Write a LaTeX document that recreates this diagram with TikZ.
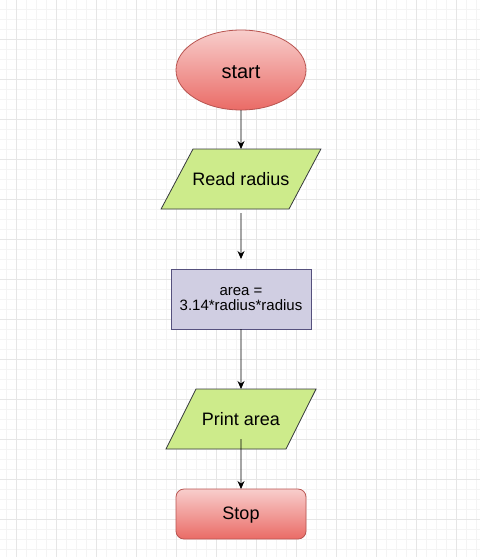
\documentclass[tikz,border=0pt]{standalone}
\usepackage{fontspec}
\setmainfont{Liberation Sans}
\usetikzlibrary{positioning, arrows.meta, shapes.geometric}
\definecolor{termtop}{HTML}{F8CECC}
\definecolor{termbot}{HTML}{EA6B66}
\definecolor{termline}{HTML}{B85450}
\definecolor{iofill}{HTML}{CDEB8B}
\definecolor{ioline}{HTML}{36393D}
\definecolor{procfill}{HTML}{D0CEE2}
\definecolor{procline}{HTML}{56517E}
\definecolor{gridminor}{HTML}{F4F4F4}
\definecolor{gridmajor}{HTML}{E6E6E6}
\newcommand{\fs}[1]{\fontsize{#1}{#1}\selectfont}

\begin{document}
\begin{tikzpicture}[x=1pt, y=-1pt,
    terminal/.style={draw=termline, top color=termtop, bottom color=termbot, line width=0.8pt,
        text height=14pt, text depth=3pt, inner sep=0pt, outer sep=0pt},
    inout/.style={trapezium, trapezium left angle=62, trapezium right angle=118,
        draw=ioline, fill=iofill, line width=0.8pt, text height=15pt, text depth=3pt,
        inner xsep=0pt, inner ysep=21pt, outer sep=0pt, font=\fs{18}},
    process/.style={rectangle, draw=procline, fill=procfill, line width=0.8pt, minimum width=140pt, minimum height=60pt,
        inner sep=0pt, outer sep=0pt, align=center, font=\fs{15}},
    flow/.style={-{Stealth[length=8pt, width=7pt]}, line width=0.8pt}]
    \useasboundingbox (0,0) rectangle (480,557);
    \fill[white] (0,0) rectangle (480,557);
    % grid
    \foreach \x in {6,16,...,476} \draw[gridminor, line width=0.6pt] (\x,0) -- (\x,557);
    \foreach \y in {9,19,...,549} \draw[gridminor, line width=0.6pt] (0,\y) -- (480,\y);
    \foreach \x in {16,56,...,456} \draw[gridmajor, line width=0.8pt] (\x,0) -- (\x,557);
    \foreach \y in {-1,39,...,519} \draw[gridmajor, line width=0.8pt] (0,\y) -- (480,\y);

    \node [terminal, ellipse, minimum width=130pt, minimum height=80pt, text height=19pt, text depth=2pt, font=\fs{20}] (start) at (241,70) {start};
    \node [inout, below=39pt of start] (read) {\makebox[96pt]{Read radius}};
    \node [process, below=60pt of read] (calc) {area =\\3.14*radius*radius};
    \node [inout, trapezium left angle=63.4, trapezium right angle=116.6, below=60pt of calc] (print) {\makebox[90pt]{Print area}};
    \node [terminal, rounded corners=8pt, minimum width=130pt, minimum height=50pt, font=\fs{18}, below=40pt of print] (stop) {Stop};

    \draw[flow] (start) -- (read);
    \draw[flow, shorten <=4pt, shorten >=10pt] (read) -- (calc);
    \draw[flow] (calc) -- (print);
    \draw[flow, shorten <=-10pt] (print) -- (stop);
\end{tikzpicture}
\end{document}
